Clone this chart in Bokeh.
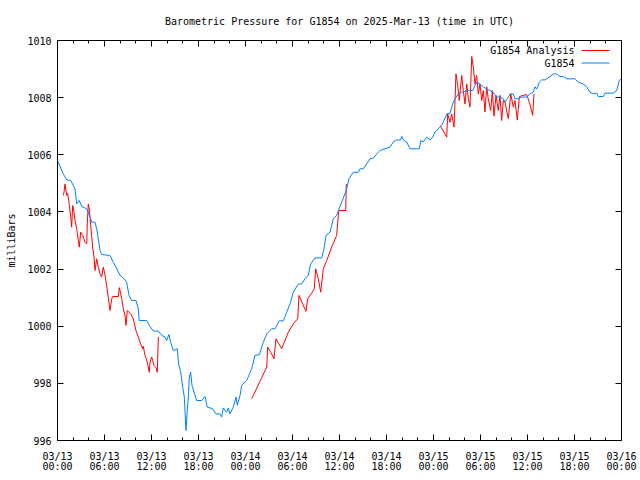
import math
from bokeh.plotting import figure
from bokeh.models import Range1d, LinearAxis, FixedTicker, Label, Arrow
from bokeh.embed import file_html
from bokeh.resources import INLINE

# ---------------- data ----------------
title_text = "Barometric Pressure for G1854 on 2025-Mar-13 (time in UTC)"
y_label = "milliBars"
analysis_name = "G1854 Analysis"
station_name = "G1854"

x_tick_hours = [0, 6, 12, 18, 24, 30, 36, 42, 48, 54, 60, 66, 72]
x_tick_labels = ["03/13\n00:00", "03/13\n06:00", "03/13\n12:00", "03/13\n18:00",
                 "03/14\n00:00", "03/14\n06:00", "03/14\n12:00", "03/14\n18:00",
                 "03/15\n00:00", "03/15\n06:00", "03/15\n12:00", "03/15\n18:00",
                 "03/16\n00:00"]
x_minor_hours = [h for h in range(0, 73, 2) if h % 6 != 0]
y_ticks = [996, 998, 1000, 1002, 1004, 1006, 1008, 1010]

# G1854 observations (hours since 03/13 00:00 UTC, mb)
obs_hours = [0.00, 0.74, 1.17, 1.69, 2.23, 2.45, 2.78, 3.09, 3.73, 4.15, 4.37, 4.79, 5.00,
             5.21, 5.43, 5.64, 6.49, 6.70, 7.12, 7.56, 7.98, 8.40, 8.83, 9.13, 9.47, 10.02,
             10.31, 10.44, 11.39, 11.81, 12.23, 12.87, 13.30, 13.72, 13.94, 14.23, 14.45,
             14.78, 15.29, 15.47, 15.73, 15.98, 16.19, 16.40, 16.57, 16.70, 16.83, 17.00,
             17.17, 17.43, 17.77, 18.41, 18.83, 19.12, 19.81, 20.23, 20.74, 20.96, 21.17,
             21.60, 21.80, 22.02, 22.44, 22.79, 22.95, 23.30, 23.51, 24.15, 24.79, 25.21,
             25.76, 26.27, 26.71, 27.34, 27.77, 28.31, 28.83, 29.26, 29.68, 30.10, 30.74,
             31.17, 31.60, 32.02, 32.32, 32.87, 33.73, 34.02, 34.28, 34.79, 35.21, 35.64,
             35.85, 36.28, 36.70, 36.92, 37.21, 37.76, 38.40, 38.62, 39.04, 39.47, 39.89,
             40.31, 40.75, 41.17, 42.45, 42.87, 43.30, 43.81, 43.94, 44.23, 44.58, 45.00,
             46.19, 46.37, 46.70, 47.13, 47.55, 47.90, 48.19, 48.61, 49.05, 49.34, 49.69,
             50.11, 50.45, 50.74, 51.17, 51.60, 52.44, 53.00, 53.30, 53.51, 53.94, 54.36,
             54.79, 55.21, 55.63, 56.07, 56.49, 56.91, 57.13, 57.55, 57.77, 58.19, 58.40,
             58.83, 59.26, 59.90, 60.32, 60.74, 60.96, 61.17, 61.51, 61.81, 62.23, 62.87,
             63.29, 63.73, 64.15, 64.57, 65.00, 66.06, 66.48, 67.12, 67.56, 67.98, 68.40,
             68.83, 69.04, 69.68, 69.89, 70.95, 71.39, 71.72, 72.00]
obs_mb = [1005.80, 1005.33, 1005.12, 1005.10, 1004.81, 1004.28, 1004.40, 1004.19, 1004.11,
          1003.82, 1003.64, 1003.64, 1003.41, 1003.06, 1002.65, 1002.51, 1002.48, 1002.48,
          1002.24, 1002.01, 1001.78, 1001.69, 1001.54, 1001.08, 1000.90, 1000.90, 1000.61,
          1000.20, 1000.20, 999.99, 999.83, 999.83, 999.68, 999.62, 999.50, 999.71, 999.44,
          999.15, 999.21, 998.68, 998.39, 997.87, 997.52, 996.35, 997.05, 997.52, 998.22,
          998.39, 997.93, 997.69, 997.40, 997.40, 997.54, 997.17, 997.11, 996.93, 996.93,
          996.82, 997.14, 996.99, 997.14, 996.93, 997.17, 997.52, 997.23, 997.58, 997.93,
          998.10, 998.51, 998.98, 999.00, 999.44, 999.73, 999.91, 999.91, 1000.19, 1000.19,
          1000.49, 1000.78, 1001.19, 1001.48, 1001.48, 1001.66, 1001.78, 1002.18, 1002.39,
          1002.39, 1002.71, 1003.18, 1003.29, 1003.76, 1003.88, 1004.05, 1004.34, 1004.64,
          1004.81, 1005.16, 1005.39, 1005.39, 1005.51, 1005.51, 1005.68, 1005.86, 1005.88,
          1006.03, 1006.15, 1006.27, 1006.45, 1006.52, 1006.52, 1006.64, 1006.50, 1006.45,
          1006.21, 1006.21, 1006.50, 1006.45, 1006.62, 1006.52, 1006.62, 1006.79, 1006.91,
          1007.03, 1007.20, 1007.43, 1007.45, 1007.78, 1007.96, 1008.13, 1008.19, 1008.25,
          1008.25, 1008.43, 1008.54, 1008.48, 1008.37, 1008.31, 1008.25, 1008.19, 1008.02,
          1008.02, 1007.96, 1007.84, 1008.02, 1008.13, 1008.13, 1007.96, 1007.96, 1008.02,
          1008.02, 1008.13, 1008.19, 1008.38, 1008.30, 1008.54, 1008.62, 1008.62, 1008.74,
          1008.83, 1008.83, 1008.74, 1008.74, 1008.66, 1008.66, 1008.54, 1008.48, 1008.38,
          1008.19, 1008.13, 1008.16, 1008.04, 1008.04, 1008.16, 1008.16, 1008.25, 1008.60,
          1008.66]

# G1854 Analysis, three 12-hour runs
ana1_hours = [0.74, 0.83, 0.96, 1.17, 1.30, 1.51, 1.69, 1.81, 1.94, 2.11, 2.23, 2.45, 2.66,
              2.78, 2.96, 3.22, 3.51, 3.73, 3.80, 3.93, 4.06, 4.24, 4.49, 4.66, 4.79, 5.00,
              5.21, 5.43, 5.64, 5.85, 6.06, 6.28, 6.49, 6.70, 6.92, 7.05, 7.76, 7.89, 8.20,
              8.40, 8.62, 8.74, 8.91, 9.34, 9.68, 10.02, 10.31, 10.62, 10.88, 10.95, 11.17,
              11.46, 11.72, 11.81, 12.03, 12.15, 12.32, 12.57, 12.74, 12.87]
ana1_mb = [1004.58, 1004.69, 1004.98, 1004.58, 1004.65, 1004.23, 1003.82, 1003.47, 1004.23,
           1003.99, 1003.70, 1003.41, 1003.00, 1002.77, 1003.29, 1003.18, 1002.94, 1002.88,
           1003.58, 1004.28, 1004.11, 1003.53, 1002.77, 1002.42, 1001.95, 1002.36, 1002.07,
           1001.83, 1001.72, 1002.07, 1001.80, 1001.40, 1001.00, 1000.55, 1000.95, 1001.04,
           1001.04, 1001.35, 1000.96, 1000.61, 1000.38, 1000.03, 1000.55, 1000.43, 1000.26,
           999.85, 999.62, 999.38, 999.21, 999.30, 998.98, 998.74, 998.39, 998.74, 998.92,
           998.80, 998.63, 998.55, 998.39, 999.62]
ana2_hours = [24.79, 26.71, 26.83, 27.34, 27.64, 27.89, 28.62, 29.46, 30.10, 30.66, 30.83,
              31.30, 31.72, 31.94, 32.45, 32.78, 32.96, 33.29, 33.60, 33.93, 34.37, 35.00,
              35.64, 35.85, 35.94, 36.79, 36.87]
ana2_mb = [997.46, 998.57, 999.27, 999.03, 998.86, 999.56, 999.21, 999.79, 1000.08, 1000.26,
           1001.08, 1000.78, 1000.52, 1000.96, 1001.16, 1001.31, 1002.01, 1001.66, 1001.19,
           1002.01, 1002.30, 1002.77, 1003.18, 1003.88, 1004.05, 1004.05, 1004.98]
ana3_hours = [48.83, 49.69, 49.81, 50.11, 50.32, 50.62, 50.87, 51.09, 51.29, 51.60, 51.80,
              52.02, 52.24, 52.44, 52.66, 52.88, 53.08, 53.30, 53.51, 53.72, 53.94, 54.15,
              54.36, 54.57, 54.79, 54.99, 55.30, 55.51, 55.72, 55.98, 56.27, 56.49, 56.70,
              56.91, 57.13, 57.34, 57.55, 57.86, 58.19, 58.40, 58.70, 58.96, 59.90, 60.23,
              60.66, 60.83]
ana3_mb = [1007.03, 1006.62, 1007.43, 1007.14, 1007.43, 1006.97, 1008.83, 1008.43, 1007.90,
           1008.78, 1008.25, 1007.78, 1008.48, 1007.96, 1007.67, 1009.44, 1009.07, 1008.48,
           1008.78, 1008.13, 1008.48, 1007.90, 1008.25, 1007.50, 1008.38, 1007.96, 1007.55,
           1008.25, 1007.35, 1008.08, 1007.55, 1008.08, 1007.20, 1007.90, 1007.84, 1007.55,
           1007.26, 1008.13, 1007.67, 1007.90, 1007.22, 1008.04, 1008.11, 1007.84, 1007.38,
           1008.13]

# ---------------- styling ----------------
FONT = "DejaVu Sans Mono"
FS = "10px"
RED = "#ff0000"
BLUE = "#0080ff"

p = figure(width=638, height=478, output_backend="svg", toolbar_location=None,
           x_range=Range1d(0, 72), y_range=Range1d(996, 1010),
           x_axis_type=None, y_axis_type=None,
           min_border_left=57, min_border_right=17, min_border_top=40, min_border_bottom=38,
           title=title_text)
p.outline_line_color = "black"
p.outline_line_alpha = 1.0
p.outline_line_width = 1
p.background_fill_color = "white"
p.border_fill_color = "white"

p.title.align = "center"
p.title.text_font = FONT
p.title.text_font_size = FS
p.title.text_font_style = "normal"
p.title.text_color = "black"
p.title.text_line_height = 1.0
p.title.standoff = 27


def style_axis(ax, ticks, show_labels):
    ax.axis_line_color = None
    ax.major_tick_in = 6
    ax.major_tick_out = 0
    ax.minor_tick_in = 3
    ax.minor_tick_out = 0
    ax.major_tick_line_color = "black"
    ax.minor_tick_line_color = "black"
    ax.major_label_text_font = FONT
    ax.major_label_text_font_size = FS
    ax.major_label_text_color = "black"
    if not show_labels:
        # mirrored ticks only (gnuplot style): no tick texts on this side
        ax.major_label_overrides = {t: "" for t in ticks}
        ax.major_label_text_color = None
        ax.major_label_text_font_size = "1px"
        ax.major_label_standoff = 0


xticker = FixedTicker(ticks=x_tick_hours, minor_ticks=x_minor_hours)
yticker = FixedTicker(ticks=y_ticks, minor_ticks=[])

xb = LinearAxis(ticker=xticker,
                major_label_overrides=dict(zip(x_tick_hours, x_tick_labels)))
style_axis(xb, x_tick_hours, True)
xb.major_label_standoff = 10
xb.major_label_text_line_height = 0.95
p.add_layout(xb, "below")

xt = LinearAxis(ticker=xticker)
style_axis(xt, x_tick_hours, False)
p.add_layout(xt, "above")

yl = LinearAxis(ticker=yticker, axis_label=y_label)
style_axis(yl, y_ticks, True)
yl.major_label_standoff = 6
yl.axis_label_text_font = FONT
yl.axis_label_text_font_size = FS
yl.axis_label_text_font_style = "normal"
yl.axis_label_text_color = "black"
yl.axis_label_standoff = 7
p.add_layout(yl, "left")

yr = LinearAxis(ticker=yticker)
style_axis(yr, y_ticks, False)
p.add_layout(yr, "right")

# ---------------- series ----------------
p.multi_line(xs=[ana1_hours, ana2_hours, ana3_hours], ys=[ana1_mb, ana2_mb, ana3_mb],
             line_color=RED, line_width=1)
p.line(obs_hours, obs_mb, line_color=BLUE, line_width=1)

# ---------------- key (gnuplot style: text then sample) ----------------
key_entries = [(analysis_name, RED), (station_name, BLUE)]
for i, (name, col) in enumerate(key_entries):
    yy = 390 - 12.5 * i
    p.add_layout(Label(x=517, y=yy, x_units="screen", y_units="screen", text=name,
                       text_align="right", text_baseline="middle", text_font=FONT,
                       text_font_size=FS, text_color="black"))
    p.add_layout(Arrow(end=None, x_start=524, y_start=yy, x_end=552, y_end=yy,
                       start_units="screen", end_units="screen",
                       line_color=col, line_width=1))

open("out.html", "w").write(file_html(p, INLINE))
